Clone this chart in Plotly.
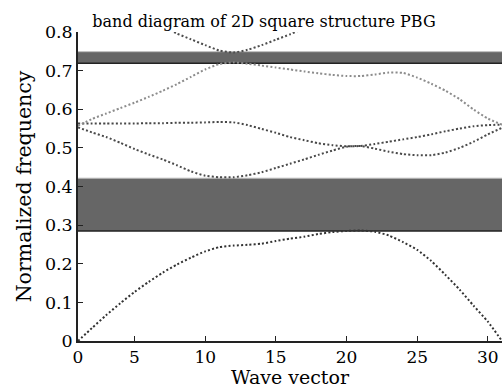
import plotly.graph_objects as go

# ---- data -------------------------------------------------------------
k = list(range(1, 32))  # k-point index along the path

band1 = [0.0, 0.034, 0.067, 0.098, 0.127, 0.153, 0.177, 0.198, 0.216, 0.232,
         0.243, 0.247, 0.249, 0.252, 0.259, 0.265, 0.270, 0.277, 0.282, 0.285,
         0.286, 0.283, 0.273, 0.256, 0.236, 0.207, 0.171, 0.133, 0.091, 0.050,
         0.0]
band2 = [0.553, 0.540, 0.528, 0.513, 0.497, 0.483, 0.470, 0.455, 0.439, 0.428,
         0.424, 0.424, 0.429, 0.437, 0.448, 0.459, 0.470, 0.482, 0.493, 0.503,
         0.505, 0.498, 0.490, 0.484, 0.481, 0.481, 0.488, 0.500, 0.516, 0.535,
         0.552]
band3 = [0.563, 0.563, 0.563, 0.563, 0.563, 0.564, 0.564, 0.565, 0.565, 0.566,
         0.567, 0.566, 0.559, 0.549, 0.539, 0.528, 0.520, 0.512, 0.507, 0.504,
         0.505, 0.510, 0.516, 0.522, 0.528, 0.535, 0.543, 0.550, 0.556, 0.559,
         0.560]
band4 = [0.557, 0.575, 0.589, 0.603, 0.617, 0.632, 0.648, 0.665, 0.684, 0.703,
         0.717, 0.721, 0.718, 0.713, 0.708, 0.703, 0.698, 0.693, 0.689, 0.686,
         0.686, 0.690, 0.695, 0.694, 0.682, 0.666, 0.648, 0.626, 0.599, 0.576,
         0.560]
band5 = [None, None, None, None, None, None, 0.815, 0.796, 0.781, 0.766,
         0.752, 0.747, 0.754, 0.766, 0.780, 0.794, 0.810, None, None, None,
         None, None, None, None, None, None, None, None, None, None,
         None]

bands = [band1, band2, band3, band4, band5]
band_colors = ["#333333", "#4a4a4a", "#474747", "#8c8c8c", "#4d4d4d"]

gap_low = [0.285, 0.719]
gap_high = [0.4215, 0.749]

x_tickvals = [1, 5, 10, 15, 20, 25, 30]
x_ticktext = ["0", "5", "10", "15", "20", "25", "30"]
y_tickvals = [0, 0.1, 0.2, 0.3, 0.4, 0.5, 0.6, 0.7, 0.8]
y_ticktext = ["0", "0.1", "0.2", "0.3", "0.4", "0.5", "0.6", "0.7", "0.8"]

FONT = "DejaVu Serif"

fig = go.Figure()
for b, c in zip(bands, band_colors):
    fig.add_trace(go.Scatter(x=k, y=b, mode="lines",
                             line=dict(color=c, width=2, dash="2px,2.2px",
                                       shape="spline", smoothing=0.6),
                             connectgaps=False, showlegend=False,
                             hoverinfo="skip"))

shapes = []
for lo, hi in zip(gap_low, gap_high):
    shapes.append(dict(type="rect", xref="paper", yref="y", x0=0, x1=1,
                       y0=lo, y1=hi, fillcolor="#666666",
                       line=dict(width=0), layer="below"))
    shapes.append(dict(type="line", xref="paper", yref="y", x0=0, x1=1,
                       y0=hi, y1=hi, line=dict(color="#bdbdbd", width=1),
                       layer="below"))
    shapes.append(dict(type="line", xref="paper", yref="y", x0=0, x1=1,
                       y0=lo, y1=lo, line=dict(color="#222222", width=1.5),
                       layer="below"))

fig.update_layout(
    width=502, height=388,
    margin=dict(l=78, r=0, t=32, b=47),
    paper_bgcolor="white", plot_bgcolor="white",
    font=dict(family=FONT, color="black"),
    shapes=shapes,
    title=dict(text="band diagram of 2D square structure PBG",
               font=dict(family=FONT, size=16, color="black"),
               xref="container", yref="container",
               x=264 / 502, y=1 - 21 / 388,
               xanchor="center", yanchor="middle"),
    xaxis=dict(range=[1, 31], tickvals=x_tickvals, ticktext=x_ticktext,
               showgrid=False, zeroline=False, showline=True,
               linecolor="#222222", linewidth=1.5,
               ticks="inside", ticklen=5, tickcolor="#222222",
               tickfont=dict(family=FONT, size=17),
               title=dict(text="Wave vector", standoff=4,
                          font=dict(family=FONT, size=19))),
    yaxis=dict(range=[0, 0.8], tickvals=y_tickvals, ticktext=y_ticktext,
               showgrid=False, zeroline=False, showline=True,
               linecolor="#222222", linewidth=1.5,
               ticks="inside", ticklen=5, tickcolor="#222222",
               tickfont=dict(family=FONT, size=17.5),
               title=dict(text="Normalized frequency", standoff=8,
                          font=dict(family=FONT, size=20.5))),
)

fig.write_html("out.html")
